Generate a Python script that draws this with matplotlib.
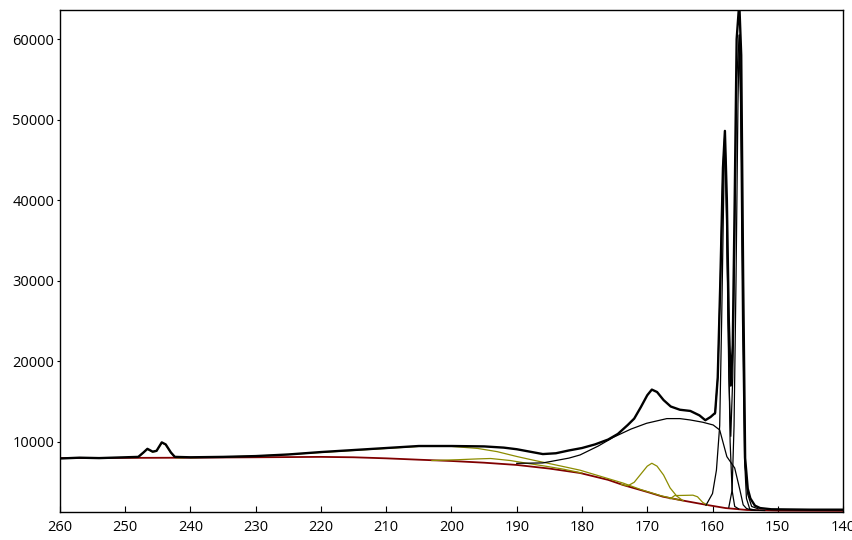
import matplotlib
matplotlib.use("Agg")
import matplotlib.pyplot as plt

plt.rcParams['font.family'] = ['Open Sans', 'DejaVu Sans']

## measured spectrum (binding energy, counts)
raw_x = [260, 257, 254, 250, 248, 247.2, 246.6, 245.8, 245.2, 244.4, 243.8, 243.0, 242.4,
         240, 235, 230, 225, 220, 215, 210, 205, 200, 195, 192, 190, 188, 186, 184, 182,
         180, 178, 176, 174.5, 173, 172, 171, 170, 169.3, 168.5, 167.5, 166.4, 165, 163.4,
         162, 161.1, 160.3, 159.6, 159.2, 158.8, 158.4, 158.1, 157.8, 157.5, 157.2, 156.9,
         156.6, 156.3, 155.9, 155.6, 155.3, 155.0, 154.6, 154.2, 153.5, 152.7, 151, 145, 140]
raw_y = [7950, 8050, 8000, 8100, 8150, 8700, 9150, 8800, 8900, 9950, 9700, 8700, 8150,
         8100, 8150, 8250, 8450, 8750, 9000, 9250, 9500, 9500, 9450, 9300, 9100, 8800, 8500, 8600, 8950,
         9250, 9700, 10300, 11000, 12100, 12900, 14300, 15800, 16500, 16200, 15200, 14400, 14000, 13850,
         13300, 12700, 13100, 13600, 18000, 30000, 44000, 48600, 40000, 25000, 17000, 22000,
         40000, 60000, 64500, 58000, 30000, 8000, 4200, 3000, 2100, 1800, 1650, 1600, 1600]

## background
bg_x = [260, 240, 230, 220, 215, 210, 205, 200, 195, 190, 185, 180.3, 176, 173.7, 170,
        167.6, 164, 160.8, 158, 154.7, 150, 140]
bg_y = [8000, 8050, 8100, 8150, 8100, 7970, 7800, 7640, 7430, 7150, 6700, 6150, 5300, 4660, 3800,
        3210, 2650, 2180, 1800, 1560, 1480, 1450]

## olive components
sm_x = [249, 248, 247.2, 246.6, 245.8, 245.2, 244.4, 243.8, 243, 242.2, 241]
sm_y = [8070, 8100, 8700, 9100, 8750, 8850, 9900, 9650, 8650, 8050, 8050]

broad_x = [240, 235, 230, 225, 220, 215, 210, 205, 200, 196, 193, 190, 187.5, 185.4, 182,
           180.3, 177, 173.7, 171, 168, 165]
broad_y = [8050, 8150, 8250, 8450, 8700, 8950, 9200, 9450, 9450, 9200, 8800, 8200, 7750, 7390, 6800,
           6500, 5700, 4900, 4100, 3350, 2780]

c_x = [203, 199, 196, 194, 191, 188, 186, 183, 180]
c_y = [7700, 7800, 7900, 7950, 7700, 7300, 7050, 6650, 6150]

d_x = [174, 173, 172, 171, 170, 169.3, 168.5, 167.5, 166.5, 165.5, 164.5]
d_y = [4740, 4550, 5000, 6000, 7000, 7360, 7000, 5900, 4300, 3300, 2700]

e_x = [166.5, 165.8, 163, 162.3, 161.5, 160.8]
e_y = [2950, 3350, 3400, 3200, 2500, 2180]

## black fit components
f_x = [190, 186, 184, 182, 180.3, 177.5, 175.2, 172.5, 170.1, 167, 165, 163.4, 161.5, 159.9,
       158.9, 157.8, 156.6, 155.8, 155.3, 154.8, 154, 152]
f_y = [7350, 7400, 7700, 8000, 8390, 9500, 10580, 11600, 12320, 12900, 12900, 12730, 12450, 12110,
       11490, 8180, 6770, 4040, 2200, 1750, 1550, 1500]

g_x = [161, 160, 159.4, 158.9, 158.6, 158.3, 158.1, 157.9, 157.6, 157.3, 157.0, 156.6, 156]
g_y = [2150, 3600, 6500, 12000, 25000, 40000, 48500, 42000, 25000, 10000, 4000, 2000, 1700]

h_x = [157.5, 157.0, 156.7, 156.4, 156.1, 155.9, 155.7, 155.4, 155.1, 154.8, 154.3, 153.5]
h_y = [1900, 4000, 12000, 30000, 52000, 60500, 52000, 25000, 8000, 3000, 1700, 1550]

env_x = [159.6, 159.2, 158.8, 158.4, 158.1, 157.8, 157.5, 157.2, 156.9, 156.6, 156.3, 155.9,
         155.6, 155.3, 155.0, 154.6, 154.0, 153.0]
env_y = [13500, 18000, 30000, 44000, 48500, 35000, 18000, 10700, 18000, 35000, 55000, 60500,
         50000, 25000, 7000, 3500, 2000, 1700]

olive = '#8c8c00'

fig = plt.figure(figsize=(8.53, 5.40), dpi=100)
ax = fig.add_axes([0.0703, 0.0519, 0.918, 0.9296])

ax.plot(bg_x, bg_y, color='#800000', lw=1.3)
for xs, ys in [(sm_x, sm_y), (broad_x, broad_y), (c_x, c_y), (d_x, d_y), (e_x, e_y)]:
    ax.plot(xs, ys, color=olive, lw=0.9)
for xs, ys in [(f_x, f_y), (g_x, g_y), (h_x, h_y), (env_x, env_y)]:
    ax.plot(xs, ys, color='black', lw=0.9)
ax.plot(raw_x, raw_y, color='black', lw=1.7)

ax.set_xlim(260, 140)
ax.set_ylim(1315, 63600)
ax.set_xticks(range(260, 139, -10))
ax.set_yticks([10000, 20000, 30000, 40000, 50000, 60000])
ax.tick_params(axis='x', direction='in', length=4, labelsize=10.5, pad=6)
ax.tick_params(axis='y', direction='out', length=2, labelsize=10.5, pad=2)
for s in ax.spines.values():
    s.set_linewidth(1.0)

fig.savefig('out.png', dpi=100)
